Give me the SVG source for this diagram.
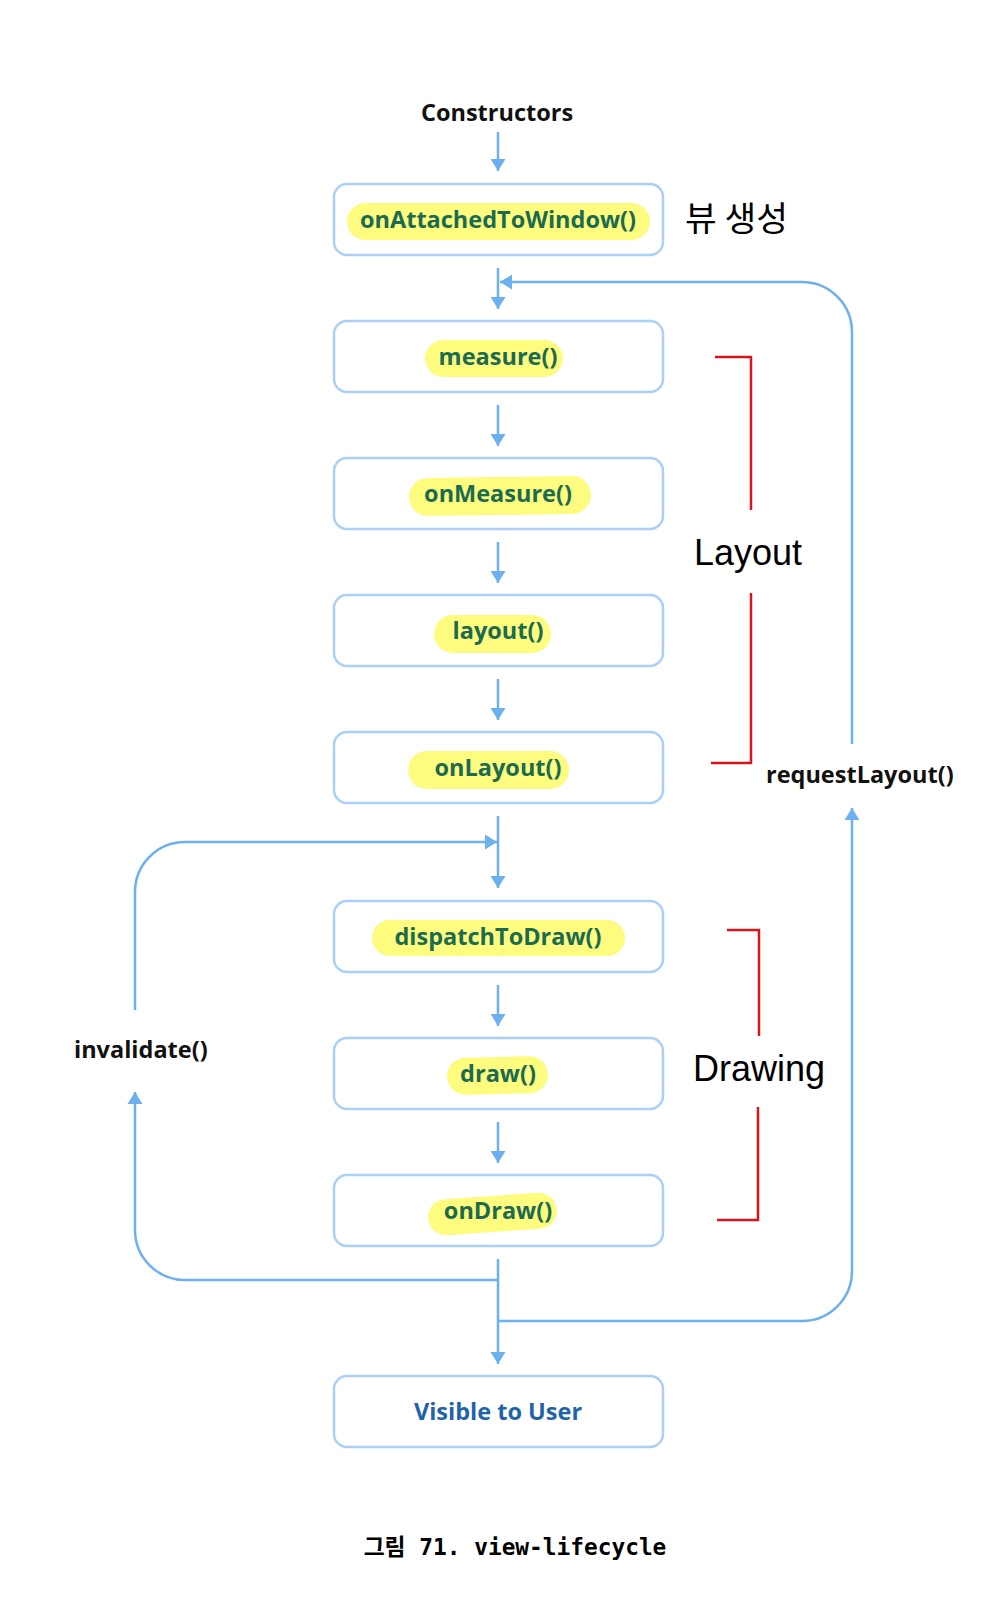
<svg xmlns="http://www.w3.org/2000/svg" width="1000" height="1614" viewBox="0 0 1000 1614">
<defs>
<style>
.box{fill:#ffffff;stroke:#aad0f8;stroke-width:2.5}
.pill{fill:#fdfc7e}
.fn{font-family:"Open Sans","Noto Sans",sans-serif;font-weight:700;font-size:23.5px;fill:#1c6a4f;text-anchor:middle}
.lbl{font-family:"Open Sans","Noto Sans",sans-serif;font-weight:700;font-size:23.5px;fill:#111111}
.big{font-family:"Liberation Sans",Arial,sans-serif;font-size:36px;fill:#000000}
.con{fill:none;stroke:#6cb0f0;stroke-width:2.5}
.red{fill:none;stroke:#d8141c;stroke-width:2.5}
</style>
<marker id="ah" markerUnits="userSpaceOnUse" markerWidth="13" markerHeight="15" refX="12" refY="7.5" orient="auto">
<path d="M0,0 L12,7.5 L0,15 z" fill="#6cb0f0"/>
</marker>
</defs>
<rect width="1000" height="1614" fill="#ffffff"/>

<text class="lbl" x="497" y="121" text-anchor="middle">Constructors</text>

<g id="node-onAttachedToWindow">
<rect class="box" x="334" y="184" width="329" height="71" rx="13"/>
<rect class="pill" x="347" y="203" width="303" height="37" rx="18.5"/>
<text class="fn" x="498" y="228">onAttachedToWindow()</text>
</g>
<text x="685" y="231" font-family="'Noto Sans CJK KR',sans-serif" font-size="34.5" fill="#000">뷰 생성</text>

<g id="node-measure">
<rect class="box" x="334" y="321" width="329" height="71" rx="13"/>
<rect class="pill" x="425" y="340" width="138" height="37" rx="18.5"/>
<text class="fn" x="498" y="365">measure()</text>
</g>

<g id="node-onMeasure">
<rect class="box" x="334" y="458" width="329" height="71" rx="13"/>
<rect class="pill" x="409" y="477" width="182" height="38" rx="19" transform="rotate(-0.8 500 496)"/>
<text class="fn" x="498" y="502">onMeasure()</text>
</g>

<g id="node-layout">
<rect class="box" x="334" y="595" width="329" height="71" rx="13"/>
<rect class="pill" x="434" y="615" width="117" height="38" rx="19"/>
<text class="fn" x="498" y="639">layout()</text>
</g>

<g id="node-onLayout">
<rect class="box" x="334" y="732" width="329" height="71" rx="13"/>
<rect class="pill" x="408" y="751" width="161" height="38" rx="19"/>
<text class="fn" x="498" y="776">onLayout()</text>
</g>

<g id="node-dispatchToDraw">
<rect class="box" x="334" y="901" width="329" height="71" rx="13"/>
<rect class="pill" x="372" y="920" width="253" height="36" rx="18"/>
<text class="fn" x="498" y="945">dispatchToDraw()</text>
</g>

<g id="node-draw">
<rect class="box" x="334" y="1038" width="329" height="71" rx="13"/>
<rect class="pill" x="447" y="1057" width="101" height="37" rx="18.5" transform="rotate(-1.5 497 1075)"/>
<text class="fn" x="498" y="1082">draw()</text>
</g>

<g id="node-onDraw">
<rect class="box" x="334" y="1175" width="329" height="71" rx="13"/>
<rect class="pill" x="428" y="1196" width="129" height="36" rx="18" transform="rotate(-4 492 1214)"/>
<text class="fn" x="498" y="1219">onDraw()</text>
</g>

<g id="node-visible">
<rect class="box" x="334" y="1376" width="329" height="71" rx="13"/>
<text class="fn" x="498" y="1420" style="fill:#1f63aa">Visible to User</text>
</g>

<g id="connectors">
<path class="con" d="M498,132 V171" marker-end="url(#ah)"/>
<path class="con" d="M498,268 V309" marker-end="url(#ah)"/>
<path class="con" d="M498,405 V446" marker-end="url(#ah)"/>
<path class="con" d="M498,542 V583" marker-end="url(#ah)"/>
<path class="con" d="M498,679 V720" marker-end="url(#ah)"/>
<path class="con" d="M498,816 V888" marker-end="url(#ah)"/>
<path class="con" d="M498,985 V1026" marker-end="url(#ah)"/>
<path class="con" d="M498,1122 V1163" marker-end="url(#ah)"/>
<path class="con" d="M498,1259 V1364" marker-end="url(#ah)"/>
<path class="con" d="M852,744 V332 A50,50 0 0 0 802,282 H500" marker-end="url(#ah)"/>
<path class="con" d="M498,1321 H802 A50,50 0 0 0 852,1271 V808" marker-end="url(#ah)"/>
<path class="con" d="M135,1010 V892 A50,50 0 0 1 185,842 H497" marker-end="url(#ah)"/>
<path class="con" d="M498,1280 H185 A50,50 0 0 1 135,1230 V1092" marker-end="url(#ah)"/>
</g>

<g id="brackets">
<path class="red" d="M715,357 H751 V510"/>
<path class="red" d="M751,593 V763 H711"/>
<path class="red" d="M727,930 H759 V1036"/>
<path class="red" d="M758,1107 V1220 H717"/>
</g>

<text class="big" x="694" y="565">Layout</text>
<text class="big" x="693" y="1081">Drawing</text>
<text class="lbl" x="766" y="783">requestLayout()</text>
<text class="lbl" x="74" y="1058">invalidate()</text>

<text x="515" y="1555" text-anchor="middle" font-family="'DejaVu Sans Mono','Noto Sans CJK KR',monospace" font-weight="700" font-size="22.8" fill="#000">그림 71. view-lifecycle</text>
</svg>
